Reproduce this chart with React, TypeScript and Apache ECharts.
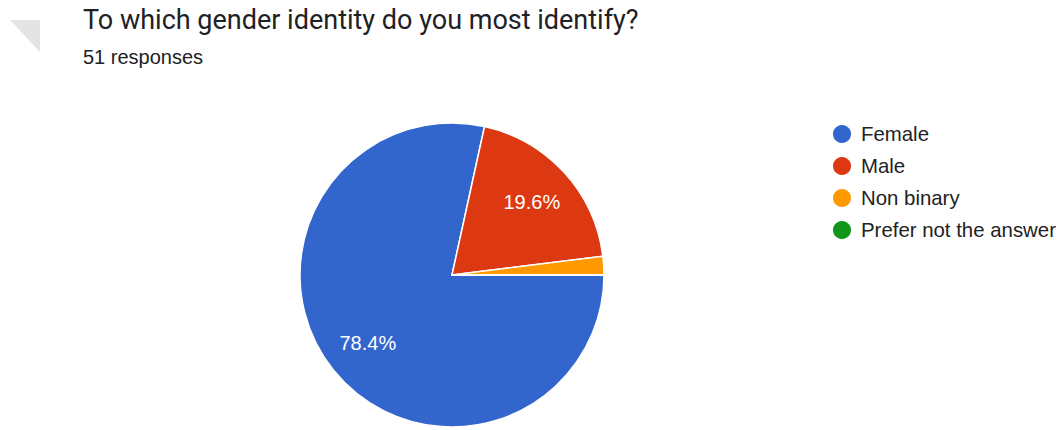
import React, { useEffect, useRef } from "react";
import * as echarts from "echarts";

const TITLE = "To which gender identity do you most identify?";
const SUBTITLE = "51 responses";
const categories = ["Female", "Male", "Non binary", "Prefer not the answer"];
const counts = [40, 10, 1, 0];
const colors = ["#3366cc", "#dc3912", "#ff9900", "#109618"];

const FONT = "'Liberation Sans', Arial, sans-serif";

export default function App() {
  const ref = useRef<HTMLDivElement>(null);
  useEffect(() => {
    document.body.style.margin = "0";
    const chart = echarts.init(ref.current!, null, { renderer: "svg" });
    const data = categories.map((name, i) => ({
      name,
      value: counts[i],
      itemStyle: { color: colors[i] },
    }));
    const labelData = categories.map((name, i) => ({
      name,
      value: counts[i],
      itemStyle: { color: "transparent" },
    }));
    chart.setOption({
      animation: false,
      backgroundColor: "#ffffff",
      graphic: [
        {
          type: "polygon",
          shape: { points: [[10, 20], [40, 20], [40, 52]] },
          style: { fill: "#e4e4e4" },
        },
        {
          type: "text",
          x: 83,
          y: 19.5,
          style: {
            text: TITLE,
            font: `27px Roboto, ${FONT}`,
            fill: "#202124",
            verticalAlign: "middle",
          },
        },
        {
          type: "text",
          x: 83,
          y: 56.5,
          style: {
            text: SUBTITLE,
            font: `20px ${FONT}`,
            fill: "#202124",
            verticalAlign: "middle",
          },
        },
      ],
      legend: {
        orient: "vertical",
        left: 826,
        top: 118,
        icon: "circle",
        itemWidth: 20,
        itemHeight: 20,
        itemGap: 10,
        data: categories,
        textStyle: {
          fontFamily: FONT,
          fontSize: 20.4,
          color: "#222222",
          padding: [0, 0, 0, 4],
        },
      },
      series: [
        {
          type: "pie",
          center: [452, 275],
          radius: [0, 152],
          startAngle: 0,
          clockwise: true,
          avoidLabelOverlap: false,
          label: { show: false },
          labelLine: { show: false },
          itemStyle: { borderColor: "#ffffff", borderWidth: 1.5 },
          emphasis: { disabled: true },
          data,
        },
        {
          type: "pie",
          center: [452, 275],
          radius: [58, 152],
          startAngle: 0,
          clockwise: true,
          silent: true,
          avoidLabelOverlap: false,
          labelLine: { show: false },
          label: {
            show: true,
            position: "inside",
            fontFamily: FONT,
            fontSize: 20,
            color: "#ffffff",
            formatter: (p: any) => (p.percent >= 5 ? p.percent.toFixed(1) + "%" : ""),
          },
          emphasis: { disabled: true },
          data: labelData,
        },
      ],
    });
    return () => chart.dispose();
  }, []);
  return <div ref={ref} style={{ width: 1062, height: 430 }} />;
}
